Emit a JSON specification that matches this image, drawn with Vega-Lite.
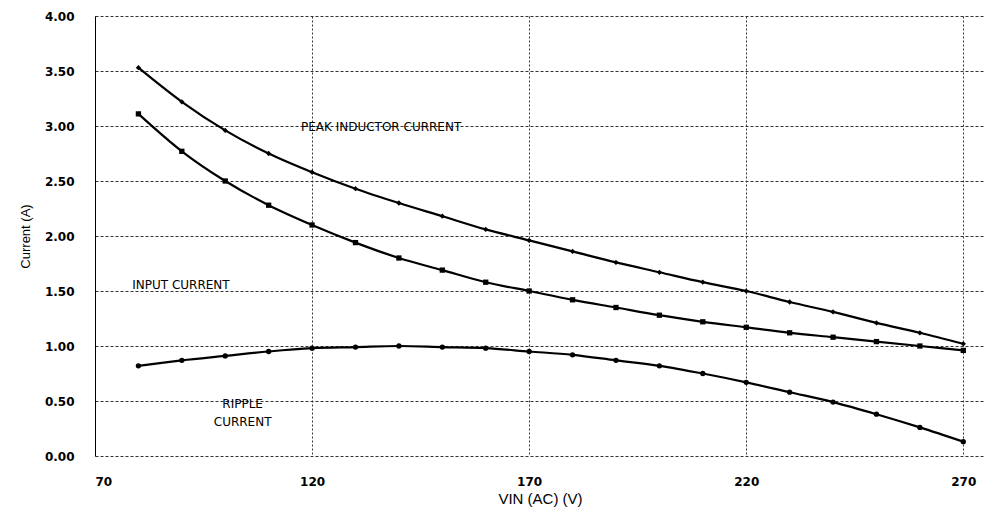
{
  "$schema": "https://vega.github.io/schema/vega-lite/v6.json",
  "width": 890,
  "height": 440,
  "autosize": {"type": "none"},
  "padding": {"left": 95, "top": 16, "right": 7, "bottom": 64},
  "background": "white",
  "config": {
    "view": {"stroke": null},
    "font": "Liberation Sans"
  },
  "datasets": {
    "curves": [
      {"vin": 80, "series": "Peak", "current": 3.53},
      {"vin": 90, "series": "Peak", "current": 3.22},
      {"vin": 100, "series": "Peak", "current": 2.96},
      {"vin": 110, "series": "Peak", "current": 2.75},
      {"vin": 120, "series": "Peak", "current": 2.58},
      {"vin": 130, "series": "Peak", "current": 2.43},
      {"vin": 140, "series": "Peak", "current": 2.30},
      {"vin": 150, "series": "Peak", "current": 2.18},
      {"vin": 160, "series": "Peak", "current": 2.06},
      {"vin": 170, "series": "Peak", "current": 1.96},
      {"vin": 180, "series": "Peak", "current": 1.86},
      {"vin": 190, "series": "Peak", "current": 1.76},
      {"vin": 200, "series": "Peak", "current": 1.67},
      {"vin": 210, "series": "Peak", "current": 1.58},
      {"vin": 220, "series": "Peak", "current": 1.50},
      {"vin": 230, "series": "Peak", "current": 1.40},
      {"vin": 240, "series": "Peak", "current": 1.31},
      {"vin": 250, "series": "Peak", "current": 1.21},
      {"vin": 260, "series": "Peak", "current": 1.12},
      {"vin": 270, "series": "Peak", "current": 1.02},
      {"vin": 80, "series": "Input", "current": 3.11},
      {"vin": 90, "series": "Input", "current": 2.77},
      {"vin": 100, "series": "Input", "current": 2.50},
      {"vin": 110, "series": "Input", "current": 2.28},
      {"vin": 120, "series": "Input", "current": 2.10},
      {"vin": 130, "series": "Input", "current": 1.94},
      {"vin": 140, "series": "Input", "current": 1.80},
      {"vin": 150, "series": "Input", "current": 1.69},
      {"vin": 160, "series": "Input", "current": 1.58},
      {"vin": 170, "series": "Input", "current": 1.50},
      {"vin": 180, "series": "Input", "current": 1.42},
      {"vin": 190, "series": "Input", "current": 1.35},
      {"vin": 200, "series": "Input", "current": 1.28},
      {"vin": 210, "series": "Input", "current": 1.22},
      {"vin": 220, "series": "Input", "current": 1.17},
      {"vin": 230, "series": "Input", "current": 1.12},
      {"vin": 240, "series": "Input", "current": 1.08},
      {"vin": 250, "series": "Input", "current": 1.04},
      {"vin": 260, "series": "Input", "current": 1.00},
      {"vin": 270, "series": "Input", "current": 0.96},
      {"vin": 80, "series": "Ripple", "current": 0.82},
      {"vin": 90, "series": "Ripple", "current": 0.87},
      {"vin": 100, "series": "Ripple", "current": 0.91},
      {"vin": 110, "series": "Ripple", "current": 0.95},
      {"vin": 120, "series": "Ripple", "current": 0.98},
      {"vin": 130, "series": "Ripple", "current": 0.99},
      {"vin": 140, "series": "Ripple", "current": 1.00},
      {"vin": 150, "series": "Ripple", "current": 0.99},
      {"vin": 160, "series": "Ripple", "current": 0.98},
      {"vin": 170, "series": "Ripple", "current": 0.95},
      {"vin": 180, "series": "Ripple", "current": 0.92},
      {"vin": 190, "series": "Ripple", "current": 0.87},
      {"vin": 200, "series": "Ripple", "current": 0.82},
      {"vin": 210, "series": "Ripple", "current": 0.75},
      {"vin": 220, "series": "Ripple", "current": 0.67},
      {"vin": 230, "series": "Ripple", "current": 0.58},
      {"vin": 240, "series": "Ripple", "current": 0.49},
      {"vin": 250, "series": "Ripple", "current": 0.38},
      {"vin": 260, "series": "Ripple", "current": 0.26},
      {"vin": 270, "series": "Ripple", "current": 0.13}
    ],
    "labels": [
      {"vin": 135.9, "current": 2.99, "text": "PEAK INDUCTOR CURRENT"},
      {"vin": 89.8, "current": 1.555, "text": "INPUT CURRENT"},
      {"vin": 104, "current": 0.47, "text": "RIPPLE"},
      {"vin": 104, "current": 0.31, "text": "CURRENT"}
    ]
  },
  "layer": [
    {
      "data": {"name": "curves"},
      "mark": {"type": "line", "color": "black", "strokeWidth": 2.2, "interpolate": "monotone"},
      "encoding": {
        "x": {
          "field": "vin", "type": "quantitative",
          "scale": {"domain": [70, 275], "nice": false, "zero": false},
          "axis": {
            "title": "VIN (AC) (V)", "values": [70, 120, 170, 220, 270],
            "grid": true, "gridColor": "#333", "gridDash": [2, 2], "gridWidth": 1,
            "domain": false, "ticks": false, "labelPadding": 20,
            "labelFont": "DejaVu Sans", "labelFontSize": 12, "labelFontWeight": "bold", "labelColor": "black",
            "titleFont": "Liberation Sans", "titleFontSize": 15, "titleFontWeight": "normal", "titleColor": "black", "titlePadding": 4
          }
        },
        "y": {
          "field": "current", "type": "quantitative",
          "scale": {"domain": [0, 4], "nice": false},
          "axis": {
            "title": "Current (A)", "values": [0, 0.5, 1, 1.5, 2, 2.5, 3, 3.5, 4], "format": ".2f",
            "grid": true, "gridColor": "#333", "gridDash": [3, 2], "gridWidth": 1,
            "domain": true, "domainColor": "black", "ticks": false, "labelPadding": 21,
            "labelFont": "DejaVu Sans", "labelFontSize": 12, "labelFontWeight": "bold", "labelColor": "black",
            "titleFont": "Liberation Sans", "titleFontSize": 13, "titleFontWeight": "normal", "titleColor": "black", "titlePadding": 12
          }
        },
        "detail": {"field": "series"}
      }
    },
    {
      "data": {"name": "curves"},
      "mark": {"type": "point", "filled": true, "color": "black", "opacity": 1},
      "encoding": {
        "x": {"field": "vin", "type": "quantitative"},
        "y": {"field": "current", "type": "quantitative"},
        "shape": {
          "field": "series", "type": "nominal",
          "scale": {"domain": ["Peak", "Input", "Ripple"], "range": ["diamond", "square", "circle"]},
          "legend": null
        },
        "size": {"value": 28}
      }
    },
    {
      "data": {"name": "labels"},
      "mark": {"type": "text", "font": "DejaVu Sans", "fontSize": 12, "color": "black", "baseline": "middle", "align": "center"},
      "encoding": {
        "x": {"field": "vin", "type": "quantitative"},
        "y": {"field": "current", "type": "quantitative"},
        "text": {"field": "text"}
      }
    }
  ]
}
